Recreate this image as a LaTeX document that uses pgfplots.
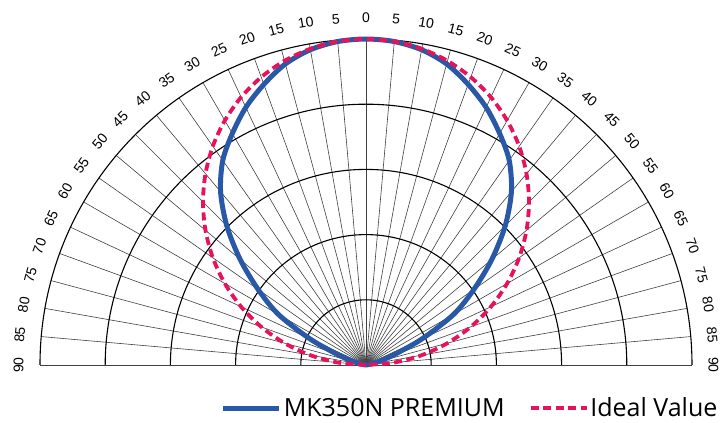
\documentclass[border=0pt]{standalone}
\usepackage{pgfplots}
\pgfplotsset{compat=1.18}
\usepackage{pgfplotstable}
\usepackage{fontspec}
\setmainfont{Liberation Sans}
\newfontfamily\legfont{Open Sans}
\definecolor{mkblue}{RGB}{40,88,166}
\definecolor{idealpink}{RGB}{232,18,92}

\pgfplotstableread{
theta r
-90 0
-85 0.01
-80 0.05
-75 0.18
-70 0.45
-65 0.95
-60 1.55
-55 2.02
-50 2.52
-45 3.02
-40 3.47
-35 3.83
-30 4.10
-25 4.36
-20 4.58
-15 4.78
-10 4.91
-5 4.98
0 5.00
5 4.98
10 4.91
15 4.78
20 4.58
25 4.36
30 4.10
35 3.83
40 3.47
45 3.02
50 2.52
55 2.02
60 1.55
65 0.95
70 0.45
75 0.18
80 0.05
85 0.01
90 0
}\mkdata

\pgfplotstableread{
theta r
-90 0
-85 0.436
-80 0.868
-75 1.294
-70 1.710
-65 2.113
-60 2.500
-55 2.868
-50 3.214
-45 3.536
-40 3.830
-35 4.096
-30 4.330
-25 4.532
-20 4.698
-15 4.830
-10 4.924
-5 4.981
0 5.000
5 4.981
10 4.924
15 4.830
20 4.698
25 4.532
30 4.330
35 4.096
40 3.830
45 3.536
50 3.214
55 2.868
60 2.500
65 2.113
70 1.710
75 1.294
80 0.868
85 0.436
90 0
}\idealdata

\begin{document}
\begin{tikzpicture}
\begin{axis}[
  x=65.2pt, y=65.2pt,
  xmin=-5, xmax=5, ymin=0, ymax=5,
  hide axis,
  clip=false,
  legend columns=2,
  legend style={at={(axis cs:5.47,-0.66)}, anchor=east, draw=none, fill=none,
    font=\legfont\fontsize{25}{25}\selectfont,
    /tikz/every even column/.append style={column sep=22pt}},
  legend image code/.code={\draw[#1] (0pt,0pt) -- (56pt,0pt);},
]
\coordinate (C) at (axis cs:0,0);
\pgfplotsinvokeforeach{0,5,...,180}{
  \draw[black!75, line width=0.6pt] (axis cs:0,0) -- (axis cs:{5*cos(#1)},{5*sin(#1)});
  \node[rotate={#1-90}, anchor=south, inner sep=0pt, font=\fontsize{14}{14}\selectfont]
    at (axis cs:{5.25*cos(#1)},{5.25*sin(#1)}) {\pgfmathparse{int(abs(90-#1))}\pgfmathresult};
}
\pgfplotsinvokeforeach{1,2,3,4,5}{
  \draw[black, line width=1.1pt] (axis cs:#1,0) arc[start angle=0, end angle=180, radius={#1*65.2pt}];
}
\addplot[mkblue, line width=5pt, smooth, data cs=polar] table[x expr={90-\thisrow{theta}}, y=r] {\mkdata};
\addlegendentry{MK350N PREMIUM}
\addplot[idealpink, line width=3.8pt, smooth, dash pattern=on 8pt off 4.5pt, data cs=polar] table[x expr={90-\thisrow{theta}}, y=r] {\idealdata};
\addlegendentry{Ideal Value}
\end{axis}
\pgfresetboundingbox
\path (C) ++(-366pt,-58pt) rectangle ++(724pt,423pt);
\end{tikzpicture}
\end{document}
